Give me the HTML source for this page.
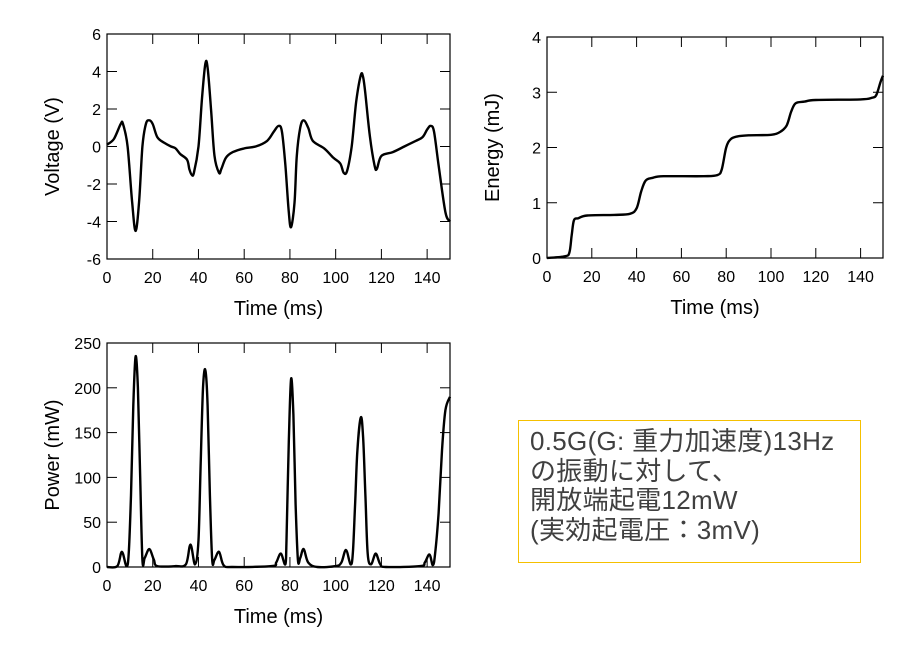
<!DOCTYPE html>
<html><head><meta charset="utf-8">
<style>
body{margin:0;background:#fff;width:907px;height:651px;overflow:hidden;font-family:"Liberation Sans","Noto Sans CJK JP",sans-serif;}
svg text{font-family:"Liberation Sans","Noto Sans CJK JP",sans-serif;}
#note{position:absolute;left:518px;top:420px;width:343px;height:143px;border:1.5px solid #f5c000;box-sizing:border-box;padding:6px 0 0 11px;font-size:26px;letter-spacing:0.3px;line-height:29.5px;color:#404040;white-space:nowrap;}
</style></head><body>
<svg id="c" width="907" height="651" style="position:absolute;left:0;top:0"></svg>
<div id="note">0.5G(G: 重力加速度)13Hz<br>の振動に対して、<br>開放端起電12mW<br>(実効起電圧：3mV)</div>
<script>
const vTime=[0,3,6,7,9,11,12.5,14,15.5,17,18.5,20,22,25,28,30,32,35,36,37,38,40,41.5,43,44,45.5,47,49,50,52,55,60,65,70,73,75,76.5,78,79.5,80.5,82,83,84.5,86,88,90,95,99,102,103.5,105,107,109,111,112,113,115,117,118,120,125,130,135,138,140,141.5,143,145,148,150];
const vVals=[0.1,0.4,1.2,1.2,0,-3,-4.5,-3,0,1.2,1.4,1.2,0.5,0.2,0,-0.1,-0.4,-0.7,-1.2,-1.5,-1.4,0,2.5,4.4,4.2,2,-0.5,-1.4,-1.2,-0.6,-0.3,-0.1,0,0.3,0.8,1.1,0.8,-1,-3.5,-4.3,-3,-0.5,1,1.4,1,0.3,-0.1,-0.6,-0.9,-1.4,-1.3,0,2.4,3.8,3.7,2.8,0.5,-1,-1.2,-0.5,-0.3,0,0.3,0.5,0.9,1.1,0.8,-1,-3.5,-4];
const eTime=[0,8,10,11,12,14,18,30,37,40,42,44,47,52,70,76,78,80,82,85,90,100,104,107,109,111,115,120,140,145,147,149,150];
const eVals=[0,0.03,0.1,0.4,0.68,0.72,0.77,0.78,0.8,0.9,1.2,1.4,1.45,1.48,1.48,1.5,1.6,2.0,2.15,2.2,2.22,2.23,2.28,2.4,2.65,2.8,2.83,2.86,2.87,2.9,2.95,3.2,3.3];
const pTime=[0,4.5,6.5,8.5,9.5,10.5,11.5,12.5,13.5,14.5,15.5,16.5,18.5,20.5,22,30,34.5,36.5,38.5,40,41,42,43,44,45,46,47,49,51,55,72,74,76,78,78.5,79.5,80.5,81.5,82.5,83.5,84.5,86,88,92,100,102.5,104.5,106.5,107.5,108.5,109.5,111,112,113,114,115.5,117.5,119.5,122,137,139,141,142.5,143.5,145,146.5,148,150];
const pVals=[0,1,17,1,15,80,180,235,200,100,8,10,20,8,1,1,3,25,3,30,120,200,220,180,80,8,8,17,2,0,1,5,15,3,30,140,210,170,70,8,10,20,5,0,1,5,19,3,15,70,130,167,145,80,15,3,15,3,0,1,5,14,2,15,60,130,175,190];
const xTicks=[0,20,40,60,80,100,120,140];
const vTicks=[-6,-4,-2,0,2,4,6];
const eTicks=[0,1,2,3,4];
const pTicks=[0,50,100,150,200,250];
const svg=document.getElementById('c');
const NS='http://www.w3.org/2000/svg';
function mk(t,a,p){const e=document.createElementNS(NS,t);for(const k in a)e.setAttribute(k,a[k]);(p||svg).appendChild(e);return e;}
function smooth(pts){let d='M'+pts[0][0].toFixed(1)+','+pts[0][1].toFixed(1);
 for(let i=0;i<pts.length-1;i++){const p0=pts[Math.max(0,i-1)],p1=pts[i],p2=pts[i+1],p3=pts[Math.min(pts.length-1,i+2)];
  const c1=[p1[0]+(p2[0]-p0[0])/6,p1[1]+(p2[1]-p0[1])/6],c2=[p2[0]-(p3[0]-p1[0])/6,p2[1]-(p3[1]-p1[1])/6];
  d+='C'+c1.map(v=>v.toFixed(1)).join(',')+' '+c2.map(v=>v.toFixed(1)).join(',')+' '+p2.map(v=>v.toFixed(1)).join(',');}
 return d;}
function chart(name,L,R,T,B,ymin,ymax,yt,xs,ys,ytitle){
 const g=mk('g',{});
 
 
 const X=v=>L+(v-0)/150*(R-L), Y=v=>B-(v-ymin)/(ymax-ymin)*(B-T);
 const fr=mk('rect',{x:L,y:T,width:R-L,height:B-T,fill:'none',stroke:'#000','stroke-width':1.2},g);
 
 
 xTicks.forEach(t=>{const x=X(t);
  mk('line',{x1:x,x2:x,y1:B,y2:B-10,stroke:'#000'},g);mk('line',{x1:x,x2:x,y1:T,y2:T+10,stroke:'#000'},g);
  const tx=mk('text',{x:x,y:B+24,'text-anchor':'middle','font-size':16,fill:'#000'},g);tx.textContent=t;
  
  });
 yt.forEach(t=>{const y=Y(t);
  mk('line',{x1:L,x2:L+10,y1:y,y2:y,stroke:'#000'},g);mk('line',{x1:R,x2:R-10,y1:y,y2:y,stroke:'#000'},g);
  const tx=mk('text',{x:L-6,y:y+6,'text-anchor':'end','font-size':16,fill:'#000'},g);tx.textContent=t;
  
  });
 const xt=mk('text',{x:(L+R)/2,y:B+56,'text-anchor':'middle','font-size':20,fill:'#000'},g);xt.textContent='Time (ms)';
 
 
 const yx=L-48,yy=(T+B)/2;
 const ytx=mk('text',{x:yx,y:yy,'text-anchor':'middle','font-size':20,fill:'#000',transform:`rotate(-90 ${yx} ${yy})`},g);ytx.textContent=ytitle;
 
 
 const pts=xs.map((v,i)=>[X(v),Y(ys[i])]);
 const p=mk('path',{d:smooth(pts),fill:'none',stroke:'#000','stroke-width':2.4,'stroke-linejoin':'round'},g);
 
 
}
chart('voltage-chart',107,450,34,259,-6,6,vTicks,vTime,vVals,'Voltage (V)');
chart('energy-chart',547,883,37,258,0,4,eTicks,eTime,eVals,'Energy (mJ)');
chart('power-chart',107,450,343,567,0,250,pTicks,pTime,pVals,'Power (mW)');
</script>
</body></html>
